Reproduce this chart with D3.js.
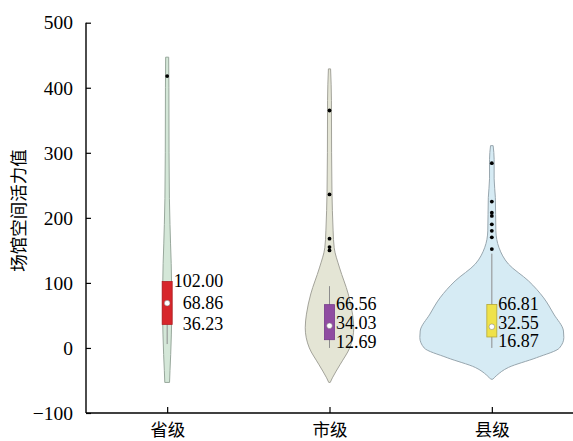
<!DOCTYPE html>
<html lang="zh">
<head>
<meta charset="UTF-8">
<title>场馆空间活力值</title>
<script src="https://d3js.org/d3.v7.min.js"></script>
<style>
    body { margin: 0; background: #fff; }
</style>
</head>
<body>
<svg id="chart" width="573" height="441"></svg>
<script>
    // categories and box statistics
    const categories = ["省级", "市级", "县级"];
    const q1 = [36.23, 12.69, 16.87];
    const median = [68.86, 34.03, 32.55];
    const q3 = [102.00, 66.56, 66.81];
    const whiskerLow = [6, 0, 0];
    const whiskerHigh = [102, 95, 145];
    const labelText = [["102.00", "68.86", "36.23"], ["66.56", "34.03", "12.69"], ["66.81", "32.55", "16.87"]];

    // outliers
    const outliers = [
        [418],
        [365, 236, 168, 155, 150],
        [284, 225, 208, 203, 190, 180, 170, 152]
    ];

    // violin outlines: [value, relative density]
    const densityProvince = [[447, 0.021], [400, 0.024], [300, 0.026], [230, 0.031], [190, 0.039], [160, 0.047],
        [130, 0.056], [100, 0.061], [60, 0.064], [20, 0.058], [-10, 0.049], [-35, 0.039], [-53, 0.033]];
    const densityCity = [[429, 0.015], [380, 0.027], [300, 0.029], [240, 0.034], [211, 0.04], [180, 0.05],
        [154, 0.065], [123, 0.14], [83, 0.26], [52, 0.32], [31, 0.337], [0, 0.28], [-25, 0.15], [-46, 0.04], [-53, 0.01]];
    const densityCounty = [[311, 0.018], [290, 0.032], [260, 0.032], [231, 0.049], [180, 0.056], [154, 0.1],
        [129, 0.23], [103, 0.51], [77, 0.72], [52, 0.86], [26, 0.995], [16, 1.0], [0, 0.94], [-15, 0.62],
        [-30, 0.23], [-42, 0.07], [-48, 0.015]];
    const densities = [densityProvince, densityCity, densityCounty];

    const yTicks = [-100, 0, 100, 200, 300, 400, 500];

    const violinFill = ["#d4e7d8", "#e4e5d5", "#d6ebf4"];
    const violinStroke = ["#98a89c", "#a3a39a", "#98a6ae"];
    const boxFill = ["#d7262b", "#8f4ca1", "#efe24a"];
    const boxStroke = ["#b01c20", "#74398a", "#b4a838"];

    const serif = '"Liberation Serif", "Times New Roman", serif';
    const cjk = '"Noto Sans CJK SC", sans-serif';

    const svg = d3.select("#chart");
    const m = { left: 86, right: 573, top: 22.7, bottom: 413 };

    const x = d3.scalePoint().domain(categories).range([m.left, m.right]).padding(0.5);
    const y = d3.scaleLinear().domain([-100, 500]).range([m.bottom, m.top]);
    const w = d3.scaleLinear().domain([0, 1]).range([0, 72]);

    // violins
    categories.forEach((c, i) => {
        const cx = x(c);
        const area = d3.area()
            .y(d => y(d[0]))
            .x0(d => cx - w(d[1]))
            .x1(d => cx + w(d[1]))
            .curve(d3.curveMonotoneY);
        svg.append("path")
            .datum(densities[i])
            .attr("d", area)
            .attr("fill", violinFill[i])
            .attr("stroke", violinStroke[i])
            .attr("stroke-width", 1);
    });

    // whiskers, boxes, medians, outliers
    categories.forEach((c, i) => {
        const cx = x(c);
        svg.append("line")
            .attr("x1", cx).attr("x2", cx)
            .attr("y1", y(whiskerHigh[i])).attr("y2", y(whiskerLow[i]))
            .attr("stroke", "#8c8c8c").attr("stroke-width", 1);
        svg.append("rect")
            .attr("x", cx - 5).attr("width", 10)
            .attr("y", y(q3[i])).attr("height", y(q1[i]) - y(q3[i]))
            .attr("fill", boxFill[i])
            .attr("stroke", boxStroke[i]).attr("stroke-width", 0.8);
        svg.append("circle")
            .attr("cx", cx).attr("cy", y(median[i])).attr("r", 2.8)
            .attr("fill", "#fff").attr("stroke", "#777").attr("stroke-width", 0.5);
        svg.selectAll(null).data(outliers[i]).enter().append("circle")
            .attr("cx", cx).attr("cy", d => y(d)).attr("r", 1.9)
            .attr("fill", "#000");
    });

    // value labels, right aligned inside each group, nudged apart when crowded
    const minGap = 18.5;
    categories.forEach((c, i) => {
        const cx = x(c);
        const vals = [q3[i], median[i], q1[i]];
        const pos = vals.map(v => y(v));
        for (let k = 0; k < 4; k++) {
            for (let j = 1; j < pos.length; j++) {
                const gap = pos[j] - pos[j - 1];
                if (gap < minGap) {
                    if (j === 1) {
                        pos[j] += minGap - gap;
                    } else {
                        pos[j - 1] -= (minGap - gap) / 2;
                        pos[j] += (minGap - gap) / 2;
                    }
                }
            }
        }
        const texts = svg.append("g").selectAll("text").data(labelText[i]).enter().append("text")
            .attr("y", (d, j) => pos[j] + 1.5)
            .attr("dominant-baseline", "middle")
            .attr("text-anchor", "end")
            .style("font-family", serif)
            .style("font-size", "18px")
            .attr("fill", "#000")
            .text(d => d);
        let maxW = 0;
        texts.each(function () { maxW = Math.max(maxW, this.getComputedTextLength()); });
        texts.attr("x", cx + 6.5 + maxW);
    });

    // axes
    const yAxis = d3.axisLeft(y).tickValues(yTicks).tickSize(-5).tickPadding(13)
        .tickFormat(d => d < 0 ? "\u2212" + Math.abs(d) : d);
    const gy = svg.append("g").attr("transform", `translate(${m.left},0)`).call(yAxis);
    gy.select(".domain").attr("d", `M0,${m.top}V${m.bottom}`).attr("stroke", "#000").attr("stroke-width", 1.4);
    gy.selectAll(".tick line").attr("stroke", "#000").attr("stroke-width", 1.2);
    gy.selectAll(".tick text")
        .style("font-family", serif).style("font-size", "19.5px").attr("fill", "#000");

    const xAxis = d3.axisBottom(x).tickSize(-6).tickPadding(11);
    const gx = svg.append("g").attr("transform", `translate(0,${m.bottom})`).call(xAxis);
    gx.select(".domain").attr("d", `M${m.left},0H${m.right}`).attr("stroke", "#000").attr("stroke-width", 1.4);
    gx.selectAll(".tick line").attr("stroke", "#000").attr("stroke-width", 1.2);
    gx.selectAll(".tick text")
        .style("font-family", cjk).style("font-size", "17.5px").attr("fill", "#000");

    // y title
    svg.append("text")
        .attr("transform", `translate(20,${(148 + 273) / 2}) rotate(-90)`)
        .attr("text-anchor", "middle")
        .attr("dominant-baseline", "middle")
        .style("font-family", cjk)
        .style("font-size", "17.5px")
        .attr("fill", "#000")
        .text("场馆空间活力值");
</script>
</body>
</html>
